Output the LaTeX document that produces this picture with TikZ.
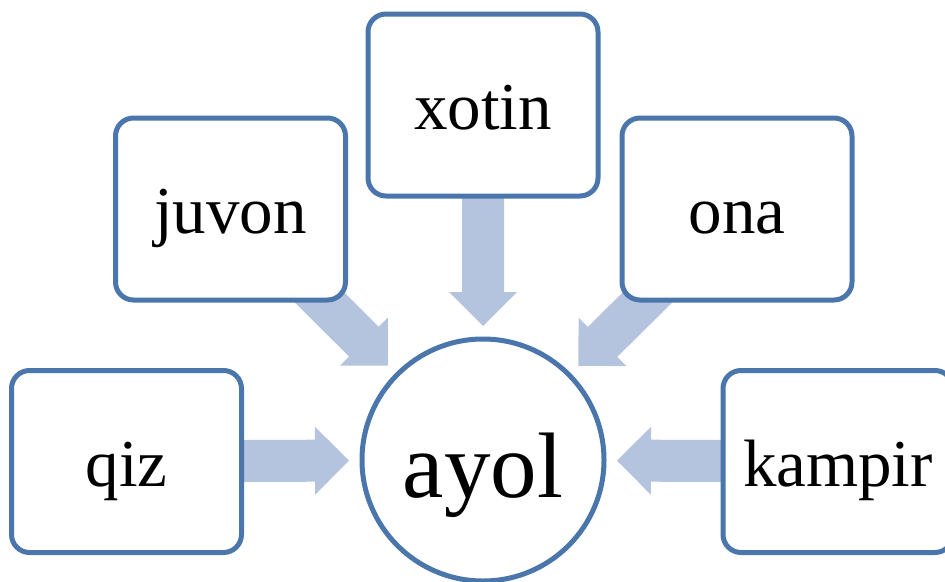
\documentclass[tikz,border=0pt]{standalone}
\usepackage{fontspec}
\setmainfont{Liberation Serif}
\usetikzlibrary{calc,backgrounds}
\definecolor{boxline}{HTML}{4A76AC}
\definecolor{arrowfill}{HTML}{B4C4DE}
\tikzset{
  termbox/.style={draw=boxline, line width=5pt, fill=white, rounded corners=18pt,
    minimum width=230pt, minimum height=182pt, inner sep=0pt,
    font=\fontsize{67pt}{67pt}\selectfont, text height=49pt, text depth=0pt},
  hubcircle/.style={draw=boxline, line width=5pt, fill=white, circle,
    minimum size=242pt, inner sep=0pt,
    font=\fontsize{93pt}{93pt}\selectfont, text height=74pt, text depth=0pt},
  fatarrow/.style={fill=arrowfill, draw=none}
}
\newcommand\fatarr[1]{%
  \coordinate (T#1) at ($(ayol.center)!134pt!(#1.center)$);
  \coordinate (B#1) at ($(ayol.center)!168pt!(#1.center)$);
  \fill[fatarrow] ($(#1.center)!21pt!90:(ayol.center)$) -- ($(B#1)!21pt!90:(ayol.center)$)
    -- ($(B#1)!34pt!90:(ayol.center)$) -- (T#1) -- ($(B#1)!34pt!-90:(ayol.center)$)
    -- ($(B#1)!21pt!-90:(ayol.center)$) -- ($(#1.center)!21pt!-90:(ayol.center)$) -- cycle;}
\begin{document}
\begin{tikzpicture}[x=1pt, y=-1pt]
\useasboundingbox (0,0) rectangle (945,581);
\clip (0,0) rectangle (945,581);
\node[hubcircle] (ayol) at (483,460) {ayol};
\node[termbox] (xotin) at (483,105) {xotin};
\node[termbox] (juvon) at (230.5,209) {juvon};
\node[termbox] (ona) at (737,209) {ona};
\node[termbox] (qiz) at (126.5,461.5) {qiz};
\node[termbox] (kampir) at (838,461.5) {kampir};
\begin{scope}[on background layer]
\fatarr{xotin}
\fatarr{juvon}
\fatarr{ona}
\fatarr{qiz}
\fatarr{kampir}
\end{scope}
\end{tikzpicture}
\end{document}
